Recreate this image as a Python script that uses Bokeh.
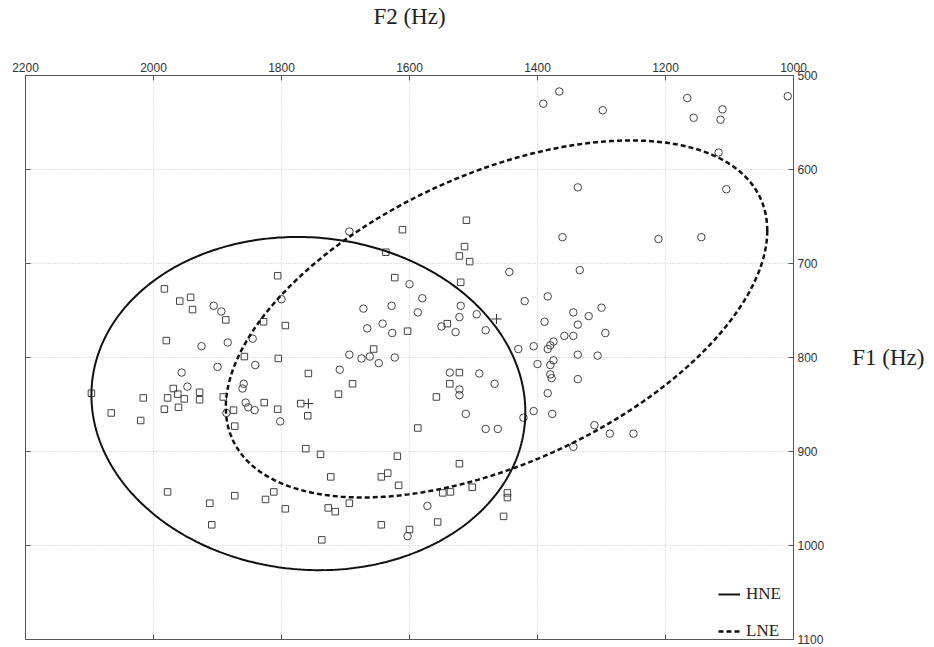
import numpy as np
from bokeh.plotting import figure
from bokeh.models import Range1d, LinearAxis, FixedTicker, Legend, LegendItem
from bokeh.embed import file_html
from bokeh.resources import INLINE

# ---- data (F2 Hz, F1 Hz) ----
lne_f2 = [1391, 1366, 1298, 1166, 1156, 1111, 1114, 1009, 1117, 1337, 1105, 1361, 1211, 1144,
          1694, 1600, 1800, 1580, 1672, 1628, 1587, 1666, 1642, 1627, 1550,
          1845, 1841, 1709, 1694, 1675, 1662, 1648, 1623, 1537,
          1906, 1894, 1925, 1884, 1900, 1956, 1947, 1859, 1861, 1856, 1852, 1842, 1886, 1802,
          1444, 1334, 1384, 1420, 1300, 1344, 1320, 1520, 1495, 1522, 1389, 1337,
          1528, 1481, 1294, 1358, 1344, 1375, 1380, 1384, 1406, 1430, 1337, 1306,
          1400, 1375, 1380, 1380, 1378, 1337, 1384,
          1491, 1467, 1522, 1522, 1512, 1422, 1406, 1377, 1481, 1462, 1311, 1287, 1250, 1344, 1572, 1603]
lne_f1 = [530, 517, 537, 524, 545, 536, 547, 522, 582, 619, 621, 672, 674, 672,
          666, 722, 738, 737, 748, 745, 752, 769, 764, 774, 767,
          780, 808, 813, 797, 801, 799, 806, 800, 816,
          745, 751, 788, 784, 810, 816, 831, 828, 833, 848, 853, 856, 859, 868,
          709, 707, 735, 740, 747, 752, 756, 745, 754, 757, 762, 765,
          773, 771, 774, 777, 777, 783, 787, 791, 788, 791, 797, 798,
          807, 803, 808, 818, 822, 823, 838,
          817, 828, 834, 840, 860, 864, 857, 860, 876, 876, 872, 881, 881, 895, 958, 990]

hne_f2 = [1611, 1637, 1806, 1623, 1794, 1828, 1603, 1541, 1805, 1758,
          1656, 1689, 1537, 1511, 1514, 1522, 1506, 1520, 1983, 1959,
          1942, 1939, 1887, 1980, 1858, 1969, 1962, 1978, 1928, 1891,
          2016, 2097, 1928, 1952, 2066, 2020, 1983, 1961, 1875, 1873,
          1827, 1806, 1770, 1759, 1711, 1587, 1558, 1522, 1522, 1762,
          1739, 1723, 1619, 1644, 1634, 1617, 1978, 1873, 1912, 1909,
          1825, 1812, 1794, 1727, 1716, 1694, 1644, 1600, 1556, 1737,
          1548, 1536, 1502, 1447, 1447, 1453]
hne_f1 = [664, 688, 713, 715, 766, 762, 772, 764, 801, 817,
          791, 828, 828, 654, 682, 692, 698, 720, 727, 740,
          736, 749, 760, 782, 799, 833, 839, 843, 837, 842,
          843, 838, 845, 844, 859, 867, 855, 853, 856, 873,
          848, 855, 849, 862, 839, 875, 842, 816, 913, 897,
          903, 927, 905, 927, 923, 936, 943, 947, 955, 978,
          951, 943, 961, 960, 964, 955, 978, 983, 975, 994,
          944, 943, 938, 944, 949, 969]

f2_ticks = [2200, 2000, 1800, 1600, 1400, 1200, 1000]
f1_ticks = [500, 600, 700, 800, 900, 1000, 1100]

# ellipse parameters: centre (F2, F1), half-width in F2, half-height in F1, F1 shear
hne_ell = dict(cx=1758, cy=849, rx=339, ry=177, shear=9)
lne_ell = dict(cx=1464, cy=759, rx=423, ry=165, shear=-94)


def ellipse(e, n=361):
    t = np.linspace(0, 2 * np.pi, n)
    x = e["cx"] - e["rx"] * np.cos(t)
    y = e["cy"] + e["ry"] * np.sin(t) + e["shear"] * np.cos(t)
    return x, y


p = figure(width=930, height=647,
           x_range=Range1d(2200, 1000), y_range=Range1d(1100, 500),
           x_axis_location="above", y_axis_location="right",
           output_backend="svg", toolbar_location=None,
           min_border_left=25, min_border_right=137, min_border_top=75, min_border_bottom=8)
p.outline_line_color = None
p.background_fill_color = "white"

AX_COL = "#555555"
TXT_COL = "#333333"


def style_axis(ax, ticks, labels=True):
    ax.ticker = FixedTicker(ticks=ticks)
    ax.major_tick_in = 5
    ax.major_tick_out = 0
    ax.minor_tick_line_color = None
    ax.axis_line_color = AX_COL
    ax.major_tick_line_color = AX_COL
    if labels:
        ax.major_label_text_font = "Liberation Sans"
        ax.major_label_text_font_size = "12px"
        ax.major_label_text_color = TXT_COL
        ax.major_label_standoff = 4
    else:
        ax.major_label_overrides = {t: "" for t in ticks}
        ax.major_label_text_font_size = "1px"
        ax.major_label_standoff = 0


top = p.xaxis[0]
style_axis(top, f2_ticks)
top.axis_label = "F2 (Hz)"
top.axis_label_text_font = "Liberation Serif"
top.axis_label_text_font_style = "normal"
top.axis_label_text_font_size = "23px"
top.axis_label_text_color = "#222222"
top.axis_label_standoff = 31

right = p.yaxis[0]
style_axis(right, f1_ticks)
right.axis_label = "F1 (Hz)"
right.axis_label_text_font = "Liberation Serif"
right.axis_label_text_font_style = "normal"
right.axis_label_text_font_size = "23px"
right.axis_label_text_color = "#222222"
right.axis_label_standoff = 25
right.axis_label_orientation = "horizontal"

bottom = LinearAxis()
style_axis(bottom, f2_ticks, labels=False)
p.add_layout(bottom, "below")
left = LinearAxis()
style_axis(left, f1_ticks, labels=False)
p.add_layout(left, "left")

for g in (p.xgrid[0], p.ygrid[0]):
    g.grid_line_color = "#c4c4c4"
    g.grid_line_dash = "1 2"
    g.grid_line_width = 1

# points
p.scatter(lne_f2, lne_f1, marker="circle", size=7.5, fill_color=None,
          line_color="#444444", line_width=1)
p.scatter(hne_f2, hne_f1, marker="square", size=6.5, fill_color=None,
          line_color="#444444", line_width=1)

# ellipses
hx, hy = ellipse(hne_ell)
lx, ly = ellipse(lne_ell)
r_h = p.line(hx, hy, line_color="#111111", line_width=2)
r_l = p.line(lx, ly, line_color="#111111", line_width=2.5, line_dash="5 3")

# centroids
p.scatter([hne_ell["cx"], lne_ell["cx"]], [hne_ell["cy"], lne_ell["cy"]],
          marker="cross", size=10, line_color="#333333", line_width=1)

legend = Legend(items=[LegendItem(label="HNE", renderers=[r_h]),
                       LegendItem(label="LNE", renderers=[r_l])],
                location="bottom_right", margin=-2, padding=18, spacing=17,
                border_line_color=None, background_fill_color="white",
                background_fill_alpha=1.0, glyph_width=22, label_standoff=6,
                label_width=49,
                label_text_font="Liberation Serif", label_text_font_size="17px",
                label_text_color="#222222")
p.add_layout(legend)

open("out.html", "w").write(file_html(p, INLINE))
